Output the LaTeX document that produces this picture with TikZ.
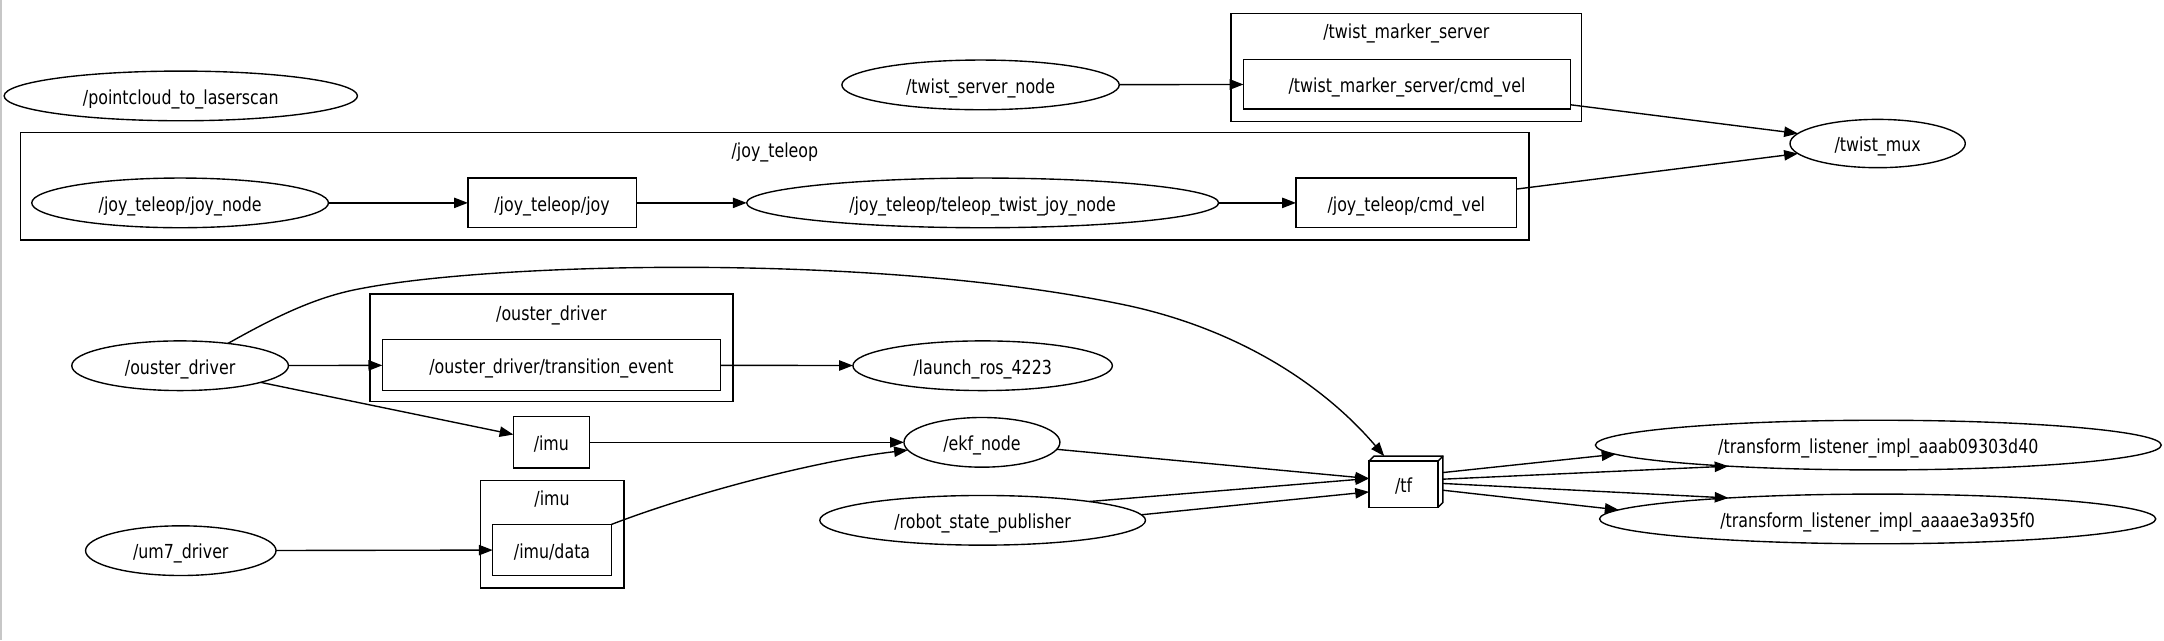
\documentclass[tikz,border=0pt]{standalone}
\usepackage{fontspec}
\setmainfont{DejaVu Sans}[FakeStretch=0.82]
\usetikzlibrary{shapes.geometric,arrows.meta}
\begin{document}
\begin{tikzpicture}[x=1pt,y=-1pt,
  lbl/.style={font=\fontsize{14}{16}\selectfont, text height=13pt, text depth=1pt},
  base/.style={lbl, draw, line width=1pt, inner sep=0pt, outer sep=0pt, minimum height=36pt},
  ell/.style={base, ellipse},
  topic/.style={base, rectangle},
  clus/.style={draw, line width=1pt, inner sep=0pt, outer sep=0pt, anchor=north west, minimum height=78pt},
  ctitle/.style={lbl, inner sep=0pt},
  edge/.style={line width=1pt, -{Triangle[length=10pt,width=7.5pt]}},
]
\fill[white] (0,0) rectangle (1568,464);
\useasboundingbox (0,0) rectangle (1568,464);
\draw[black!22, line width=1pt] (0.8,0) -- (0.8,464);

% clusters
\node[clus, minimum width=1093pt] (cjoy) at (15,96) {};
\node[ctitle] (tjoy) at (561.5,108) {/joy\_teleop};
\node[clus, minimum width=254pt] (ctms) at (892,10) {};
\node[ctitle] (ttms) at (1019,22) {/twist\_marker\_server};
\node[clus, minimum width=263pt] (coust) at (268,213) {};
\node[ctitle] (toust) at (399.5,226) {/ouster\_driver};
\node[clus, minimum width=104pt] (cimu) at (348,348) {};
\node[ctitle] (timu) at (400,360) {/imu};

% nodes
\node[ell, minimum width=256pt] (pc) at (131,69.5) {/pointcloud\_to\_laserscan};
\node[ell, minimum width=215pt] (joynode) at (130.5,147) {/joy\_teleop/joy\_node};
\node[topic, minimum width=122pt] (joy) at (400,147) {/joy\_teleop/joy};
\node[ell, minimum width=342pt] (ttjn) at (712,147) {/joy\_teleop/teleop\_twist\_joy\_node};
\node[topic, minimum width=160pt] (jcmd) at (1019,147) {/joy\_teleop/cmd\_vel};
\node[ell, minimum width=201pt] (tsn) at (710.5,61.5) {/twist\_server\_node};
\node[topic, minimum width=237pt] (tmcmd) at (1019.5,61) {/twist\_marker\_server/cmd\_vel};
\node[ell, minimum width=127pt, minimum height=35pt] (tmux) at (1360.5,104) {/twist\_mux};

\node[ell, minimum width=157pt] (ouster) at (130.5,265) {/ouster\_driver};
\node[topic, minimum width=245pt, minimum height=37pt] (trans) at (399.5,264.5) {/ouster\_driver/transition\_event};
\node[ell, minimum width=188pt] (launch) at (712,265) {/launch\_ros\_4223};
\node[topic, minimum width=55pt, minimum height=37pt] (imu) at (399.5,320.5) {/imu};
\node[ell, minimum width=113pt] (ekf) at (711.5,320.5) {/ekf\_node};
\node[ell, minimum width=138pt] (um7) at (131,399) {/um7\_driver};
\node[topic, minimum width=86pt, minimum height=37pt] (imud) at (400,398.5) {/imu/data};
\node[ell, minimum width=236pt] (rsp) at (712,377) {/robot\_state\_publisher};

\node[topic, minimum width=50pt, minimum height=33.5pt] (tf) at (1017,350.75) {/tf};
\draw[line width=1pt] (tf.north west) -- ++(3.5,-3.5) -- ++(50,0) -- ++(0,33.5) -- ++(-3.5,3.5);
\draw[line width=1pt] (tf.north east) -- ++(3.5,-3.5);

\node[ell, minimum width=410pt] (aaab) at (1361,322.5) {/transform\_listener\_impl\_aaab09303d40};
\node[ell, minimum width=403pt] (aaae) at (1360.5,376) {/transform\_listener\_impl\_aaaae3a935f0};

% tf ports
\coordinate (tfinA) at ([shift={(0,-4.05)}]tf.west);
\coordinate (tfinB) at ([shift={(0,5.65)}]tf.west);
\coordinate (tftop) at ([shift={(11,-3.5)}]tf.north west);
\coordinate (tfo1) at ([shift={(3.5,-8.35)}]tf.east);
\coordinate (tfo2) at ([shift={(3.5,-3.55)}]tf.east);
\coordinate (tfo3) at ([shift={(3.5,-0.45)}]tf.east);
\coordinate (tfo4) at ([shift={(3.5,4.45)}]tf.east);

% edges
\draw[edge] (joynode) -- (joy);
\draw[edge] (joy) -- (ttjn);
\draw[edge] (ttjn) -- (jcmd);
\draw[edge] (tsn) -- (tmcmd);
\draw[edge] (tmcmd) -- (tmux);
\draw[edge] (jcmd) -- (tmux);
\draw[edge] (ouster) -- (trans);
\draw[edge] (trans) -- (launch);
\draw[edge] (ouster) -- (imu);
\draw[edge] (imu) -- (ekf);
\draw[edge] (um7) -- (imud);
\draw[edge] (imud.north east) .. controls (500,358) and (590,334) .. (ekf.186);
\draw[edge] (ouster.25) .. controls (197,231) and (228,215) .. (262,209)
  .. controls (360,190) and (640,183) .. (820,222)
  .. controls (900,240) and (960,280) .. (tftop);
\draw[edge] (ekf) -- (tfinA);
\draw[edge] (rsp.10) -- (tfinA);
\draw[edge] (rsp.2) -- (tfinB);
\draw[edge] (tfo1) -- (aaab.182);
\draw[edge] (tfo2) -- (aaab.188);
\draw[edge] (tfo3) -- (aaae.172);
\draw[edge] (tfo4) -- (aaae.178);
\end{tikzpicture}
\end{document}
